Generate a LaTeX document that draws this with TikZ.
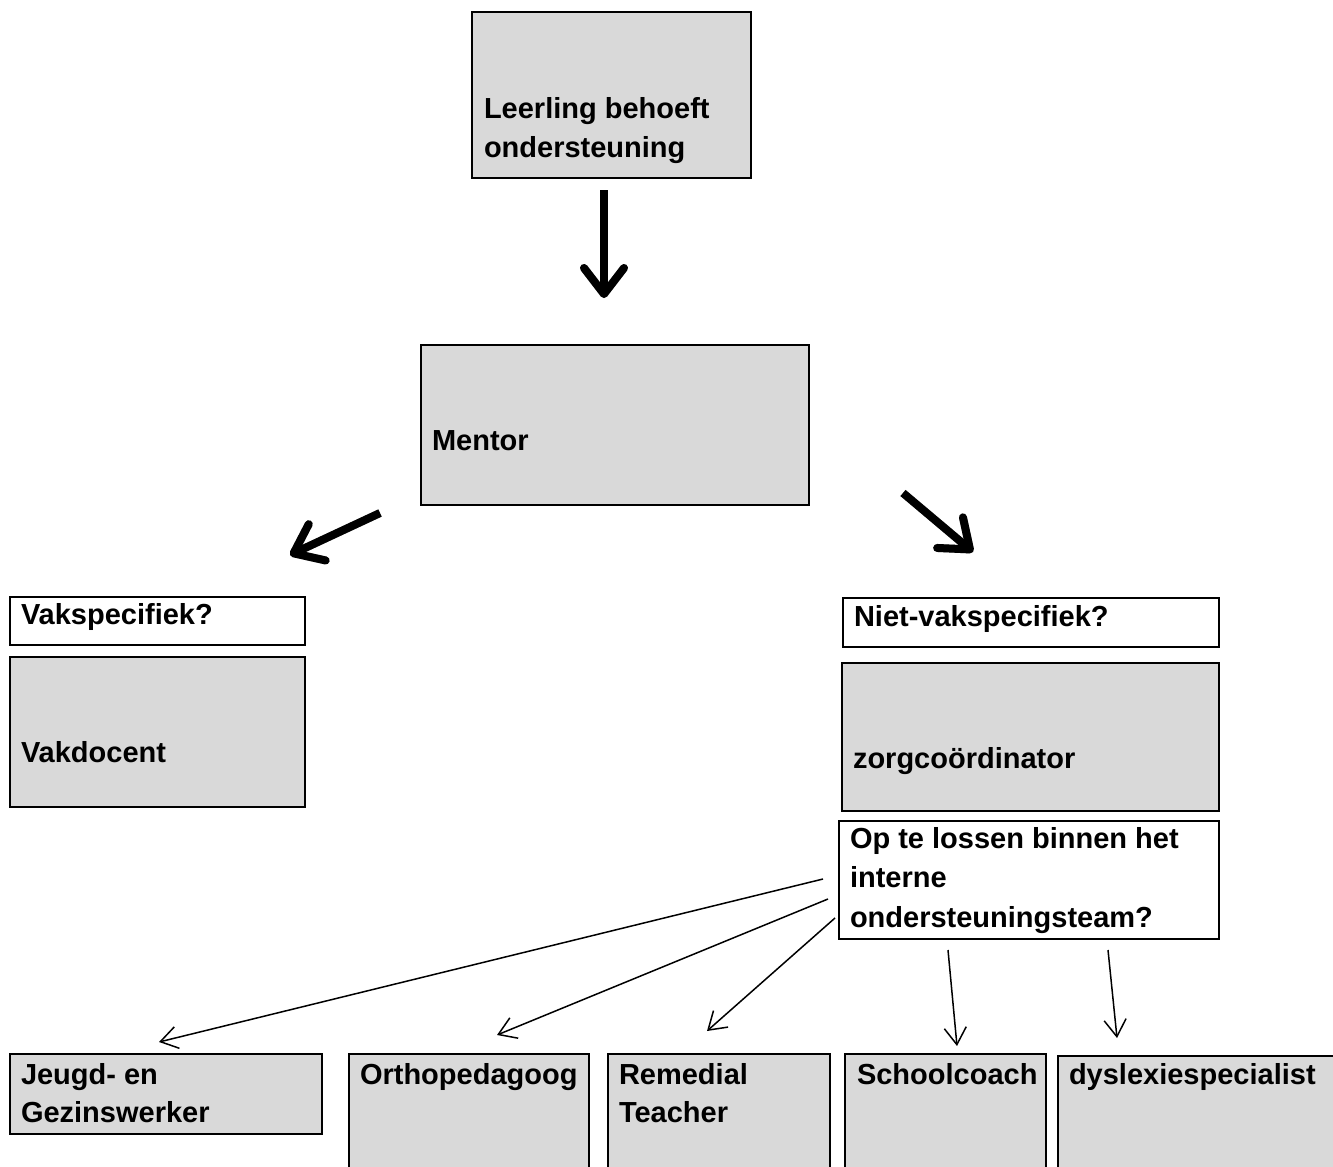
\documentclass[tikz,border=0pt]{standalone}
\usepackage{fontspec}
\setmainfont{Liberation Sans}
\usetikzlibrary{arrows.meta}
\definecolor{boxgray}{RGB}{217,217,217}
\tikzset{
  box/.style={draw, line width=2.5pt, fill=boxgray, inner sep=0pt, outer sep=0pt, anchor=north west},
  qbox/.style={box, fill=white},
  txt/.style={anchor=base west, inner sep=0pt, outer sep=0pt, font=\fontsize{29}{39}\selectfont\bfseries},
  thinarrow/.style={line width=1.5pt, -{Straight Barb[length=17pt,width=22pt]}},
  thickarrow/.style={line width=8pt, -{Straight Barb[length=26pt,width=40pt,round]}},
  shadowarrow/.style={thickarrow, draw=black!30, shift={(3,4)}}
}
\begin{document}
\begin{tikzpicture}[x=1pt,y=-1pt]
\useasboundingbox (0,0) rectangle (1333,1167);
\clip (0,0) rectangle (1333,1167);
\fill[white] (0,0) rectangle (1333,1167);

% boxes
\node[box, minimum width=279pt, minimum height=166pt] (lb) at (472,12) {};
\node[txt] (lbt1) at (484,118) {Leerling behoeft};
\node[txt] (lbt2) at (484,157) {ondersteuning};

\node[box, minimum width=388pt, minimum height=160pt] (mentor) at (421,345) {};
\node[txt] (mentort) at (432,450) {Mentor};

\node[qbox, minimum width=295pt, minimum height=48pt] (vq) at (10,597) {};
\node[txt] (vqt) at (21,624) {Vakspecifiek?};
\node[box, minimum width=295pt, minimum height=150pt] (vd) at (10,657) {};
\node[txt] (vdt) at (21,762) {Vakdocent};

\node[qbox, minimum width=376pt, minimum height=49pt] (nq) at (843,598) {};
\node[txt] (nqt) at (854,626) {Niet-vakspecifiek?};
\node[box, minimum width=377pt, minimum height=148pt] (zc) at (842,663) {};
\node[txt] (zct) at (853,768) {zorgcoördinator};
\node[qbox, minimum width=380pt, minimum height=118pt] (op) at (839,821) {};
\node[txt] (opt1) at (850,848) {Op te lossen binnen het};
\node[txt] (opt2) at (850,887) {interne};
\node[txt] (opt3) at (850,927) {ondersteuningsteam?};

\node[box, minimum width=312pt, minimum height=80pt] (jg) at (10,1054) {};
\node[txt] (jgt1) at (21,1084) {Jeugd- en};
\node[txt] (jgt2) at (21,1122) {Gezinswerker};
\node[box, minimum width=240pt, minimum height=130pt] (orth) at (349,1054) {};
\node[txt] (ortht) at (360,1084) {Orthopedagoog};
\node[box, minimum width=222pt, minimum height=130pt] (rem) at (608,1054) {};
\node[txt] (remt1) at (619,1084) {Remedial};
\node[txt] (remt2) at (619,1122) {Teacher};
\node[box, minimum width=201pt, minimum height=130pt] (sc) at (845,1054) {};
\node[txt] (sct) at (857,1084) {Schoolcoach};
\node[box, minimum width=290pt, minimum height=130pt] (dys) at (1058,1056) {};
\node[txt] (dyst) at (1069,1084) {dyslexiespecialist};

% thick arrow end points
\coordinate (a1s) at (604,190); \coordinate (a1e) at (604,298);
\coordinate (a2s) at (380,513); \coordinate (a2e) at (290,555);
\coordinate (a3s) at (903,493); \coordinate (a3e) at (973,552);
\foreach \s/\e in {a1s/a1e,a2s/a2e,a3s/a3e}{
  \draw[shadowarrow] (\s) -- (\e);
  \draw[thickarrow] (\s) -- (\e);
}

% thin arrows
\coordinate (t1s) at (823,879); \coordinate (t1e) at (159,1042);
\coordinate (t2s) at (828,899); \coordinate (t2e) at (497,1035);
\coordinate (t3s) at (835,918); \coordinate (t3e) at (707,1031);
\coordinate (t4s) at (948,950); \coordinate (t4e) at (957,1046);
\coordinate (t5s) at (1108,950); \coordinate (t5e) at (1117,1038);
\foreach \s/\e in {t1s/t1e,t2s/t2e,t3s/t3e,t4s/t4e,t5s/t5e}{
  \draw[thinarrow] (\s) -- (\e);
}
\end{tikzpicture}
\end{document}
